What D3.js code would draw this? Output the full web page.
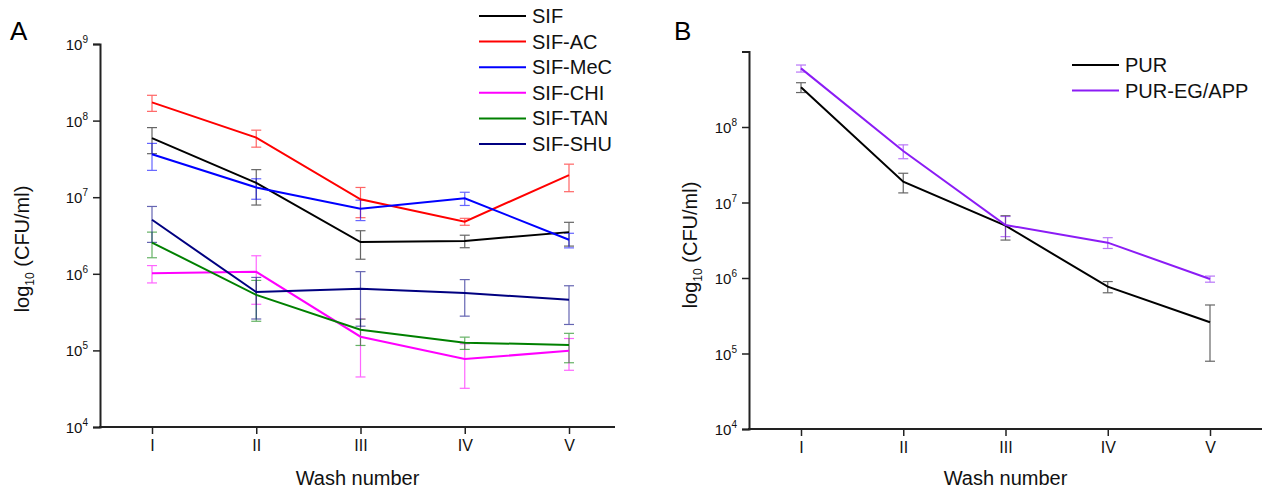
<!DOCTYPE html>
<html>
<head>
<meta charset="utf-8">
<script src="https://cdn.jsdelivr.net/npm/d3@7"></script>
<style>
  body { margin: 0; background: #fff; }
  svg { display: block; font-family: Arial, "Liberation Sans", sans-serif; }
</style>
</head>
<body>
<svg id="chart" width="1267" height="491"></svg>
<script>
// wash rounds
var washLabels = ["I", "II", "III", "IV", "V"];

// panel A - means and SD (CFU/ml)
var sif      = [5.9e7, 1.54e7, 2.6e6, 2.69e6, 3.5e6];
var sifErr   = [2.2e7, 7.5e6, 1.05e6, 0.5e6, 1.2e6];
var sifAc    = [1.73e8, 6.0e7, 9.4e6, 4.8e6, 1.94e7];
var sifAcErr = [4.1e7, 1.5e7, 4.0e6, 0.5e6, 7.6e6];
var sifMec   = [3.64e7, 1.34e7, 7.05e6, 9.7e6, 2.78e6];
var sifMecErr= [1.4e7, 4.0e6, 2.1e6, 1.9e6, 0.6e6];
var sifChi   = [1.02e6, 1.06e6, 1.51e5, 7.7e4, 9.9e4];
var sifChiErr= [2.6e5, 6.6e5, 1.06e5, 4.5e4, 4.4e4];
var sifTan   = [2.56e6, 5.3e5, 1.86e5, 1.26e5, 1.18e5];
var sifTanErr= [0.94e6, 2.9e5, 7.0e4, 2.3e4, 4.9e4];
var sifShu   = [5.07e6, 5.77e5, 6.37e5, 5.6e5, 4.58e5];
var sifShuErr= [2.5e6, 3.2e5, 4.3e5, 2.8e5, 2.4e5];

// panel B
var pur      = [3.36e8, 1.89e7, 4.93e6, 7.67e5, 2.59e5];
var purErr   = [5.0e7, 5.5e6, 1.75e6, 1.3e5, 1.8e5];
var purEg    = [5.98e8, 4.8e7, 5.03e6, 2.94e6, 9.7e5];
var purEgErr = [6.4e7, 1.0e7, 1.5e6, 4.8e5, 9.0e4];

var yTicks = [1e4, 1e5, 1e6, 1e7, 1e8, 1e9];

var svg = d3.select("#chart");

function drawPanel(cfg) {
    var x = d3.scalePoint().domain(washLabels).range([cfg.x0, cfg.x1]);
    var y = d3.scaleLog().domain([1e4, 1e9]).range([cfg.yBottom, cfg.yTop]);
    var g = svg.append("g");

    // error bars
    cfg.series.forEach(function(s) {
        var eb = g.append("g").attr("stroke", s.color).attr("stroke-width", 1.2).attr("opacity", 0.6);
        s.values.forEach(function(v, i) {
            var cx = x(washLabels[i]);
            var lo = Math.max(v - s.err[i], 1e4), hi = v + s.err[i];
            eb.append("line").attr("x1", cx).attr("x2", cx).attr("y1", y(lo)).attr("y2", y(hi));
            eb.append("line").attr("x1", cx - 5).attr("x2", cx + 5).attr("y1", y(lo)).attr("y2", y(lo));
            eb.append("line").attr("x1", cx - 5).attr("x2", cx + 5).attr("y1", y(hi)).attr("y2", y(hi));
        });
    });

    // lines
    var line = d3.line()
        .x(function(d, i) { return x(washLabels[i]); })
        .y(function(d) { return y(d); });
    cfg.series.forEach(function(s) {
        g.append("path")
            .datum(s.values)
            .attr("fill", "none")
            .attr("stroke", s.color)
            .attr("stroke-width", 2)
            .attr("d", line);
    });

    // x axis
    var xAxis = g.append("g")
        .attr("transform", "translate(0," + cfg.yBottom + ")")
        .call(d3.axisBottom(x).tickSize(7).tickPadding(6));
    xAxis.select(".domain").remove();
    xAxis.selectAll(".tick line").attr("stroke", "#222").attr("stroke-width", 1.5);
    xAxis.selectAll(".tick text").attr("font-size", 16).attr("fill", "#111")
        .attr("font-family", "Arial, 'Liberation Sans', sans-serif");
    g.append("line")
        .attr("x1", cfg.axisLeft - 1).attr("x2", cfg.axisRight)
        .attr("y1", cfg.yBottom).attr("y2", cfg.yBottom)
        .attr("stroke", "#222").attr("stroke-width", 2);

    // y axis
    var yAxis = g.append("g")
        .attr("transform", "translate(" + cfg.axisLeft + ",0)")
        .call(d3.axisLeft(y).tickValues(yTicks).tickSize(7).tickFormat(""));
    yAxis.select(".domain").attr("stroke", "#222").attr("stroke-width", 2);
    yAxis.selectAll(".tick line").attr("stroke", "#222").attr("stroke-width", 1.5);

    yTicks.forEach(function(t) {
        if (cfg.skipTop && t === 1e9) return;
        var lab = g.append("text")
            .attr("x", cfg.axisLeft - 12)
            .attr("y", y(t) + 6)
            .attr("text-anchor", "end")
            .attr("font-size", 15)
            .attr("fill", "#111");
        lab.append("tspan").text("10");
        lab.append("tspan").attr("font-size", 10).attr("dy", -7).text(Math.round(Math.log10(t)));
    });

    // axis titles
    var yt = g.append("text")
        .attr("transform", "translate(" + cfg.yTitleX + "," + cfg.yTitleY + ") rotate(-90)")
        .attr("text-anchor", "middle")
        .attr("font-size", 20)
        .attr("fill", "#111");
    yt.append("tspan").text("log");
    yt.append("tspan").attr("font-size", 12).attr("dy", 5).text("10");
    yt.append("tspan").attr("dy", -5).text(" (CFU/ml)");

    g.append("text")
        .attr("x", (cfg.axisLeft + cfg.axisRight) / 2)
        .attr("y", 485)
        .attr("text-anchor", "middle")
        .attr("font-size", 20)
        .attr("fill", "#111")
        .text("Wash number");

    // panel letter
    g.append("text")
        .attr("x", cfg.letterX).attr("y", 40)
        .attr("font-size", 26)
        .attr("fill", "#000")
        .text(cfg.letter);

    // legend
    var leg = g.append("g");
    cfg.series.forEach(function(s, i) {
        var ly = cfg.legY + i * 25.6;
        leg.append("line")
            .attr("x1", cfg.legX).attr("x2", cfg.legX + 47)
            .attr("y1", ly).attr("y2", ly)
            .attr("stroke", s.color).attr("stroke-width", 2);
        leg.append("text")
            .attr("x", cfg.legX + 53).attr("y", ly + 7)
            .attr("font-size", 20)
            .attr("fill", "#111")
            .text(s.name);
    });
}

drawPanel({
    letter: "A", letterX: 10,
    x0: 152, x1: 569, axisLeft: 100, axisRight: 615,
    yTop: 44, yBottom: 427,
    yTitleX: 29, yTitleY: 249,
    legX: 479, legY: 16,
    series: [
        { name: "SIF",     color: "#000000", values: sif,    err: sifErr },
        { name: "SIF-AC",  color: "#ff0000", values: sifAc,  err: sifAcErr },
        { name: "SIF-MeC", color: "#0000ff", values: sifMec, err: sifMecErr },
        { name: "SIF-CHI", color: "#ff00ff", values: sifChi, err: sifChiErr },
        { name: "SIF-TAN", color: "#008000", values: sifTan, err: sifTanErr },
        { name: "SIF-SHU", color: "#000080", values: sifShu, err: sifShuErr }
    ]
});

drawPanel({
    letter: "B", letterX: 674,
    x0: 801, x1: 1210, axisLeft: 749, axisRight: 1262,
    yTop: 51.5, yBottom: 429, skipTop: true,
    yTitleX: 697, yTitleY: 245,
    legX: 1072, legY: 65,
    series: [
        { name: "PUR",        color: "#000000", values: pur,   err: purErr },
        { name: "PUR-EG/APP", color: "#8b1cf5", values: purEg, err: purEgErr }
    ]
});
</script>
</body>
</html>
